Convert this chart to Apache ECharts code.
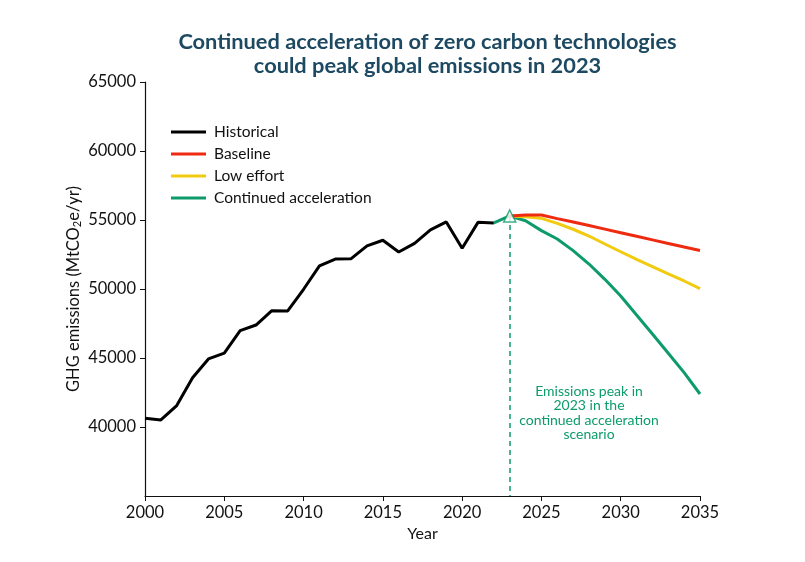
<!DOCTYPE html>
<html>
<head>
<meta charset="utf-8">
<script src="https://cdn.jsdelivr.net/npm/echarts@6/dist/echarts.min.js"></script>
<style>html,body{margin:0;padding:0;background:#fff}#c{width:805px;height:562px}</style>
</head>
<body>
<div id="c"></div>
<script>
var histYears = [2000,2001,2002,2003,2004,2005,2006,2007,2008,2009,2010,2011,2012,2013,2014,2015,2016,2017,2018,2019,2020,2021,2022];
var historical = [40630,40510,41550,43570,44930,45360,46980,47390,48430,48410,49980,51670,52170,52200,53120,53530,52680,53310,54280,54860,52950,54830,54790];
var projYears = [2023,2024,2025,2026,2027,2028,2029,2030,2031,2032,2033,2034,2035];
var baseline = [55290,55360,55360,55100,54850,54600,54340,54080,53820,53560,53300,53040,52790];
var lowEffort = [55290,55240,55120,54760,54330,53840,53260,52700,52150,51620,51090,50580,50030];
var accelYears = [2022,2023,2024,2025,2026,2027,2028,2029,2030,2031,2032,2033,2034,2035];
var accel = [54790,55290,54950,54230,53620,52780,51810,50700,49490,48120,46740,45340,43940,42390];
var peakYear = 2023;
var peakValue = 55290;
var yTicks = [40000,45000,50000,55000,60000,65000];

function pairs(xs, ys){ return xs.map(function(x,i){ return [x, ys[i]]; }); }

var FONT = 'Lato, "Open Sans", sans-serif';
var GREEN = '#0d9b6c';
var chart = echarts.init(document.getElementById('c'));
chart.setOption({
  animation: false,
  title: {
    text: 'Continued acceleration of zero carbon technologies\ncould peak global emissions in 2023',
    left: 422.5, top: 25, textAlign: 'center',
    textStyle: { fontFamily: FONT, fontSize: 21.8, fontWeight: 'bold', color: '#1d4a62', lineHeight: 24 }
  },
  legend: {
    orient: 'vertical', left: 166, top: 119,
    itemWidth: 35, itemHeight: 3, itemGap: 6, icon: 'rect',
    textStyle: { fontFamily: FONT, fontSize: 15.5, color: '#111', padding: [0,0,0,3] },
    data: ['Historical','Baseline','Low effort','Continued acceleration']
  },
  grid: { left: 145, right: 105, top: 82, bottom: 66 },
  xAxis: {
    type: 'value', min: 2000, max: 2035, interval: 5,
    name: 'Year', nameLocation: 'middle', nameGap: 30,
    nameTextStyle: { fontFamily: FONT, fontSize: 16, color: '#111' },
    axisLine: { lineStyle: { color: '#111', width: 1.2 } },
    axisTick: { show: true, length: 5, lineStyle: { color: '#111' } },
    axisLabel: { fontFamily: FONT, fontSize: 16.5, color: '#111', margin: 8,
      formatter: function(v){ return String(v); } },
    splitLine: { show: false }
  },
  yAxis: {
    type: 'value', min: 35000, max: 65000, interval: 5000,
    name: 'GHG emissions (MtCO{sub|2}e/yr)', nameLocation: 'middle', nameGap: 62, nameMoveOverlap: false,
    nameTextStyle: { fontFamily: FONT, fontSize: 16.5, color: '#111',
      rich: { sub: { fontFamily: FONT, fontSize: 11, color: '#111', verticalAlign: 'bottom', padding: [8,0,0,0] } } },
    axisLine: { show: true, lineStyle: { color: '#111', width: 1.2 } },
    axisTick: { show: true, length: 5, lineStyle: { color: '#111' },
      customValues: yTicks },
    axisLabel: { fontFamily: FONT, fontSize: 16.5, color: '#111', margin: 9,
      formatter: function(v){ return yTicks.indexOf(v) >= 0 ? String(v) : ''; } },
    splitLine: { show: false }
  },
  series: [
    { name: 'Historical', type: 'line', data: pairs(histYears, historical), symbol: 'none', z: 3,
      lineStyle: { color: '#000', width: 3 }, itemStyle: { color: '#000' } },
    { name: 'Continued acceleration', type: 'line', data: pairs(accelYears, accel), symbol: 'none', z: 4,
      lineStyle: { color: GREEN, width: 3 }, itemStyle: { color: GREEN },
      markLine: { silent: true, symbol: 'none', label: { show: false },
        lineStyle: { color: GREEN, type: [5,4], width: 1.5 },
        data: [[{ coord: [peakYear, peakValue] }, { coord: [peakYear, 35000] }]] },
      markPoint: { symbol: 'circle', symbolSize: 0,
        label: { show: true, position: 'inside', color: GREEN, fontFamily: FONT, fontSize: 14, lineHeight: 14.5, align: 'center',
          formatter: 'Emissions peak in\n2023 in the\ncontinued acceleration\nscenario' },
        data: [{ coord: [2028, 41000] }] } },
    { name: 'Low effort', type: 'line', data: pairs(projYears, lowEffort), symbol: 'none', z: 5,
      lineStyle: { color: '#f0cb10', width: 3 }, itemStyle: { color: '#f0cb10' } },
    { name: 'Baseline', type: 'line', data: pairs(projYears, baseline), symbol: 'none', z: 6,
      lineStyle: { color: '#ee2a10', width: 3 }, itemStyle: { color: '#ee2a10' } },
    { name: 'Peak', type: 'scatter', data: [[peakYear, peakValue]], symbol: 'triangle', symbolSize: 12, z: 10,
      itemStyle: { color: '#fff', borderColor: GREEN, borderWidth: 1.5 } }
  ]
});
</script>
</body>
</html>
